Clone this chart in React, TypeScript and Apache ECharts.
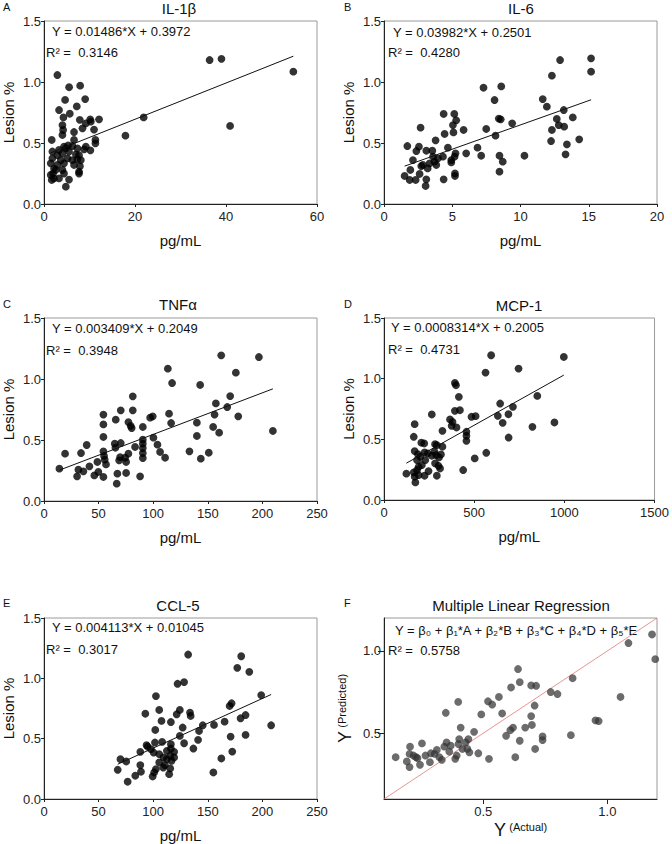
import { useEffect, useRef } from 'react';
import * as echarts from 'echarts';

const FONT = '"Liberation Sans", Arial, Helvetica, sans-serif';

// Lesion % vs cytokine level
const il1bPoints: [number, number][] = [
  [36.4, 1.18], [39.0, 1.19], [54.8, 1.085], [40.9, 0.64], [21.9, 0.71], [17.9, 0.56],
  [2.94, 1.057], [5.52, 0.957], [7.95, 0.97], [4.64, 0.853], [9.05, 0.86], [7.2, 0.8],
  [3.31, 0.77], [5.67, 0.74], [4.27, 0.71], [7.87, 0.69], [10.16, 0.694], [12.1, 0.694],
  [4.05, 0.647], [9.2, 0.66], [4.2, 0.607], [6.6, 0.59], [8.46, 0.62], [10.3, 0.675],
  [11.0, 0.61], [4.05, 0.566], [1.7, 0.525], [6.6, 0.525], [11.3, 0.525], [11.3, 0.497],
  [6.25, 0.475], [9.2, 0.47], [4.4, 0.47], [5.3, 0.48], [7.35, 0.456], [8.83, 0.448],
  [10.2, 0.44], [1.84, 0.43], [3.3, 0.443], [4.8, 0.456], [2.94, 0.4], [4.05, 0.415],
  [5.5, 0.43], [7.0, 0.407], [7.7, 0.4], [1.84, 0.374], [3.7, 0.36], [5.15, 0.374],
  [6.25, 0.36], [7.35, 0.366], [8.1, 0.36], [1.48, 0.333], [2.94, 0.32], [4.4, 0.333],
  [6.6, 0.32], [7.9, 0.31], [2.2, 0.29], [4.05, 0.28], [7.7, 0.265], [2.0, 0.25],
  [4.4, 0.25], [2.2, 0.21], [3.3, 0.21], [5.5, 0.2], [7.7, 0.25], [1.48, 0.238],
  [4.8, 0.142], [1.7, 0.197], [2.6, 0.28],
];

const il6Points: [number, number][] = [
  [15.17, 1.194], [15.17, 1.085], [12.9, 1.18], [12.3, 1.052], [7.29, 0.953], [8.59, 0.964],
  [8.1, 0.852], [11.63, 0.86], [11.93, 0.798], [13.17, 0.77], [4.37, 0.738], [5.15, 0.738],
  [8.41, 0.7], [8.55, 0.694], [12.66, 0.697], [13.83, 0.71], [5.29, 0.686], [5.05, 0.647],
  [2.68, 0.626], [7.49, 0.615], [5.83, 0.607], [9.39, 0.661], [12.8, 0.647], [13.2, 0.634],
  [12.3, 0.607], [5.09, 0.587], [4.44, 0.574], [8.17, 0.56], [3.78, 0.522], [1.71, 0.475],
  [2.56, 0.47], [3.1, 0.437], [3.54, 0.437], [2.37, 0.434], [4.68, 0.462], [6.85, 0.462],
  [12.24, 0.516], [13.4, 0.489], [14.3, 0.53], [2.12, 0.36], [2.85, 0.32], [3.7, 0.347],
  [3.59, 0.388], [4.32, 0.388], [3.95, 0.374], [4.93, 0.36], [5.17, 0.388], [5.24, 0.415],
  [6.02, 0.415], [7.12, 0.396], [8.46, 0.396], [8.7, 0.347], [10.29, 0.396], [13.3, 0.407],
  [8.46, 0.265], [1.51, 0.23], [1.93, 0.279], [1.88, 0.197], [2.32, 0.197], [2.61, 0.246],
  [3.1, 0.202], [3.05, 0.148], [2.73, 0.311], [3.2, 0.292], [4.37, 0.202], [5.2, 0.251],
  [5.2, 0.23], [3.83, 0.32], [3.34, 0.333], [4.93, 0.341],
];

const tnfPoints: [number, number][] = [
  [162.3, 1.194], [196.8, 1.18], [113.4, 1.085], [175.7, 1.052], [117.3, 0.967], [143, 0.951],
  [81.3, 0.858], [170.5, 0.86], [157.4, 0.8], [167.8, 0.77], [70.3, 0.743], [81.3, 0.743],
  [54.4, 0.708], [114.5, 0.716], [156.2, 0.708], [177.9, 0.694], [99.6, 0.694], [97.2, 0.683],
  [65.7, 0.667], [77.3, 0.647], [79.4, 0.615], [80.3, 0.598], [54.4, 0.628], [90.5, 0.607],
  [116.4, 0.639], [140, 0.642], [140, 0.533], [154.9, 0.607], [160.4, 0.56], [209.6, 0.574],
  [54.4, 0.525], [100.2, 0.519], [39.1, 0.459], [64.8, 0.47], [70.3, 0.475], [65.4, 0.437],
  [90.5, 0.503], [90.5, 0.47], [90.5, 0.434], [90.5, 0.393], [90.5, 0.352], [83.4, 0.443],
  [103.9, 0.462], [106.3, 0.402], [110.9, 0.355], [133.2, 0.407], [150.9, 0.396], [143.6, 0.347],
  [19.3, 0.388], [33.9, 0.393], [14.1, 0.265], [54.4, 0.407], [55, 0.369], [55.6, 0.339],
  [56.8, 0.3], [48.9, 0.32], [69.7, 0.36], [68.8, 0.333], [77.3, 0.388], [74.3, 0.355],
  [75.2, 0.32], [41.6, 0.284], [31.5, 0.257], [36.1, 0.243], [30.3, 0.202], [46.1, 0.21],
  [49.8, 0.238], [54.4, 0.197], [67.2, 0.224], [66.6, 0.142], [75.2, 0.23], [88, 0.202],
];

const mcp1Points: [number, number][] = [
  [594, 1.193], [997, 1.179], [746, 1.083], [563, 1.05], [393, 0.965], [399, 0.946],
  [415, 0.85], [850, 0.858], [644, 0.795], [715, 0.768], [393, 0.735], [421, 0.74],
  [265, 0.705], [485, 0.686], [508, 0.691], [631, 0.694], [690, 0.707], [366, 0.664],
  [380, 0.644], [375, 0.611], [402, 0.598], [170, 0.625], [658, 0.636], [823, 0.603],
  [945, 0.639], [457, 0.562], [457, 0.529], [324, 0.57], [691, 0.515], [165, 0.521],
  [457, 0.488], [207, 0.472], [223, 0.466], [283, 0.46], [293, 0.452], [324, 0.439],
  [567, 0.389], [503, 0.343], [170, 0.403], [188, 0.378], [201, 0.356], [183, 0.329],
  [225, 0.392], [243, 0.384], [229, 0.329], [265, 0.365], [280, 0.398], [289, 0.37],
  [305, 0.351], [316, 0.376], [283, 0.302], [302, 0.282], [311, 0.26], [439, 0.247],
  [124, 0.217], [165, 0.228], [183, 0.247], [170, 0.192], [192, 0.206], [174, 0.145],
  [225, 0.2], [247, 0.238], [293, 0.2], [192, 0.274], [210, 0.288],
];

const ccl5Points: [number, number][] = [
  [132, 1.197], [180.6, 1.183], [177, 1.087], [188, 1.054], [122.3, 0.955], [128.3, 0.969],
  [102.5, 0.853], [198.9, 0.861], [171.8, 0.793], [170, 0.771], [105.5, 0.738], [124.4, 0.738],
  [92.8, 0.707], [121.5, 0.702], [133.7, 0.716], [134.3, 0.688], [184.6, 0.696], [180, 0.669],
  [107.6, 0.647], [116.2, 0.638], [165.4, 0.641], [127, 0.592], [145.4, 0.611], [155.7, 0.614],
  [101.9, 0.572], [142, 0.564], [208, 0.611], [124.4, 0.523], [170.9, 0.517], [184.6, 0.531],
  [141.1, 0.49], [94.9, 0.435], [101.6, 0.468], [108.2, 0.473], [128.3, 0.462], [136.8, 0.418],
  [88.2, 0.391], [97.9, 0.413], [100.4, 0.385], [105.5, 0.372], [112.5, 0.399], [116.2, 0.418],
  [116.2, 0.454], [119.2, 0.391], [109.5, 0.344], [115.6, 0.358], [119.2, 0.344], [116.8, 0.316],
  [105.5, 0.303], [110.7, 0.281], [109.2, 0.261], [102.5, 0.248], [100.9, 0.22], [99.5, 0.187],
  [115.6, 0.253], [114.6, 0.206], [172.4, 0.393], [162.4, 0.336], [155.1, 0.22], [70, 0.33],
  [75.3, 0.311], [67.5, 0.242], [88.2, 0.281], [88.8, 0.226], [83.6, 0.193], [76.6, 0.143],
  [93.9, 0.446], [112.5, 0.33],
];

// actual vs predicted lesion %
const mlrPoints: [number, number][] = [
  [0.147, 0.354], [0.192, 0.328], [0.203, 0.374], [0.205, 0.418], [0.203, 0.294], [0.219, 0.364],
  [0.229, 0.354], [0.235, 0.348], [0.253, 0.438], [0.245, 0.308], [0.267, 0.364], [0.285, 0.324],
  [0.304, 0.374], [0.313, 0.398], [0.323, 0.354], [0.333, 0.338], [0.349, 0.624], [0.343, 0.418],
  [0.352, 0.444], [0.363, 0.388], [0.369, 0.424], [0.387, 0.344], [0.393, 0.364], [0.399, 0.69],
  [0.403, 0.464], [0.4, 0.434], [0.409, 0.534], [0.416, 0.404], [0.429, 0.444], [0.436, 0.404],
  [0.44, 0.464], [0.444, 0.384], [0.463, 0.508], [0.48, 0.378], [0.523, 0.344], [0.492, 0.614],
  [0.519, 0.694], [0.536, 0.674], [0.563, 0.72], [0.576, 0.62], [0.592, 0.484], [0.609, 0.518],
  [0.62, 0.534], [0.612, 0.778], [0.64, 0.89], [0.647, 0.81], [0.629, 0.354], [0.647, 0.454],
  [0.669, 0.534], [0.693, 0.604], [0.696, 0.55], [0.707, 0.668], [0.693, 0.79], [0.713, 0.788],
  [0.709, 0.404], [0.739, 0.48], [0.739, 0.458], [0.772, 0.75], [0.799, 0.738], [0.86, 0.834],
  [0.853, 0.488], [0.952, 0.578], [0.965, 0.574], [1.053, 0.72], [1.085, 1.048], [1.18, 1.1],
  [1.193, 0.95], [0.289, 0.378],
];

const lesionTicks = [0, 0.5, 1.0, 1.5];
const mlrTicks = [0.5, 1.0];

const panels = [
  {
    letter: 'A', title: 'IL-1β', points: il1bPoints, xMax: 60, xStep: 20,
    slope: 0.01486, intercept: 0.3972, eq: 'Y = 0.01486*X + 0.3972', r2: 'R² =  0.3146',
    box: { left: 44, top: 21, width: 273, height: 183 },
    titleAt: [179, 8], letterAt: [3, 7], eqAt: [52, 31], r2At: [46, 52],
  },
  {
    letter: 'B', title: 'IL-6', points: il6Points, xMax: 20, xStep: 5,
    slope: 0.03982, intercept: 0.2501, eq: 'Y = 0.03982*X + 0.2501', r2: 'R² =  0.4280',
    box: { left: 384, top: 21, width: 273, height: 183 },
    titleAt: [521, 8], letterAt: [344, 7], eqAt: [393, 32], r2At: [388, 52],
  },
  {
    letter: 'C', title: 'TNFα', points: tnfPoints, xMax: 250, xStep: 50,
    slope: 0.003409, intercept: 0.2049, eq: 'Y = 0.003409*X + 0.2049', r2: 'R² =  0.3948',
    box: { left: 44, top: 318, width: 273, height: 183 },
    titleAt: [178, 304], letterAt: [3, 304], eqAt: [52, 328], r2At: [46, 350],
  },
  {
    letter: 'D', title: 'MCP-1', points: mcp1Points, xMax: 1500, xStep: 500,
    slope: 0.0008314, intercept: 0.2005, eq: 'Y = 0.0008314*X + 0.2005', r2: 'R² =  0.4731',
    box: { left: 384, top: 318, width: 273, height: 182 },
    titleAt: [519, 305], letterAt: [344, 304], eqAt: [391, 327], r2At: [388, 349],
  },
  {
    letter: 'E', title: 'CCL-5', points: ccl5Points, xMax: 250, xStep: 50,
    slope: 0.004113, intercept: 0.01045, eq: 'Y = 0.004113*X + 0.01045', r2: 'R² =  0.3017',
    box: { left: 44, top: 618, width: 273, height: 182 },
    titleAt: [178, 605], letterAt: [3, 603], eqAt: [52, 627], r2At: [46, 649],
  },
];

const textEl = (x: number, y: number, text: string, size: number, align = 'left') => ({
  type: 'text',
  x,
  y,
  silent: true,
  style: {
    text,
    font: `${size}px ${FONT}`,
    fill: '#111',
    align,
    textAlign: align,
    verticalAlign: 'middle',
    textVerticalAlign: 'middle',
  },
});

const axisLineStyle = { show: true, lineStyle: { color: '#222', width: 1 } };

const App = () => {
  const chartRef = useRef<HTMLDivElement>(null);

  useEffect(() => {
    if (!chartRef.current) return;
    const chart = echarts.init(chartRef.current, undefined, { renderer: 'svg' });

    const grids: any[] = [];
    const xAxes: any[] = [];
    const yAxes: any[] = [];
    const series: any[] = [];
    const graphic: any[] = [];

    panels.forEach((p, i) => {
      grids.push({ ...p.box, show: true, borderColor: '#9a9a9a', borderWidth: 1, containLabel: false });
      xAxes.push({
        gridIndex: i,
        type: 'value',
        min: 0,
        max: p.xMax,
        interval: p.xStep,
        name: 'pg/mL',
        nameLocation: 'middle',
        nameGap: 29,
        nameTextStyle: { fontFamily: FONT, fontSize: 15, color: '#111' },
        axisLine: axisLineStyle,
        axisTick: { show: true, length: 3, lineStyle: { color: '#222' } },
        axisLabel: {
          fontFamily: FONT, fontSize: 13, color: '#222', margin: 6,
          formatter: (v: number) => String(v),
        },
        splitLine: { show: false },
      });
      yAxes.push({
        gridIndex: i,
        type: 'value',
        min: 0,
        max: 1.5,
        interval: 0.5,
        name: 'Lesion %',
        nameLocation: 'middle',
        nameGap: 28,
        nameTextStyle: { fontFamily: FONT, fontSize: 15, color: '#111' },
        axisLine: axisLineStyle,
        axisTick: { show: true, length: 3, lineStyle: { color: '#222' } },
        axisLabel: {
          fontFamily: FONT, fontSize: 13, color: '#222', margin: 3,
          customValues: lesionTicks,
          formatter: (v: number) => v.toFixed(1),
        },
        splitLine: { show: false },
      });
      const xs = p.points.map((d) => d[0]);
      const x0 = Math.min(...xs);
      const x1 = Math.max(...xs);
      series.push({
        type: 'scatter',
        xAxisIndex: i,
        yAxisIndex: i,
        data: p.points,
        symbolSize: 7.8,
        itemStyle: { color: '#000' },
      });
      series.push({
        type: 'line',
        xAxisIndex: i,
        yAxisIndex: i,
        data: [[x0, p.slope * x0 + p.intercept], [x1, p.slope * x1 + p.intercept]],
        symbol: 'none',
        lineStyle: { color: '#111', width: 1 },
        z: 3,
      });
      graphic.push(textEl(p.titleAt[0], p.titleAt[1], p.title, 15, 'center'));
      graphic.push(textEl(p.letterAt[0], p.letterAt[1], p.letter, 11));
      graphic.push(textEl(p.eqAt[0], p.eqAt[1], p.eq, 13));
      graphic.push(textEl(p.r2At[0], p.r2At[1], p.r2, 13));
    });

    // panel F: multiple linear regression
    const fi = panels.length;
    grids.push({ left: 384, top: 618, width: 273, height: 181, show: true, borderColor: '#9a9a9a', borderWidth: 1 });
    xAxes.push({
      gridIndex: fi,
      type: 'value',
      min: 0.1,
      max: 1.2,
      name: '{a|Y} {b|(Actual)}',
      nameLocation: 'middle',
      nameGap: 22,
      nameTextStyle: {
        fontFamily: FONT, color: '#111',
        rich: {
          a: { fontFamily: FONT, fontSize: 18, color: '#111' },
          b: { fontFamily: FONT, fontSize: 11, color: '#111', verticalAlign: 'top' },
        },
      },
      axisLine: axisLineStyle,
      axisTick: { show: true, length: 5, customValues: mlrTicks, lineStyle: { color: '#222' } },
      axisLabel: {
        fontFamily: FONT, fontSize: 13, color: '#222', margin: 6,
        customValues: mlrTicks,
        formatter: (v: number) => v.toFixed(1),
      },
      splitLine: { show: false },
    });
    yAxes.push({
      gridIndex: fi,
      type: 'value',
      min: 0.1,
      max: 1.2,
      name: '{a|Y} {b|(Predicted)}',
      nameLocation: 'middle',
      nameGap: 30,
      nameTextStyle: {
        fontFamily: FONT, color: '#111',
        rich: {
          a: { fontFamily: FONT, fontSize: 18, color: '#111' },
          b: { fontFamily: FONT, fontSize: 11, color: '#111', verticalAlign: 'top' },
        },
      },
      axisLine: axisLineStyle,
      axisTick: { show: true, length: 6, customValues: mlrTicks, lineStyle: { color: '#222' } },
      axisLabel: {
        fontFamily: FONT, fontSize: 13, color: '#222', margin: 3,
        customValues: mlrTicks,
        formatter: (v: number) => v.toFixed(1),
      },
      splitLine: { show: false },
    });
    series.push({
      type: 'line',
      xAxisIndex: fi,
      yAxisIndex: fi,
      data: [[0.1, 0.1], [1.2, 1.2]],
      symbol: 'none',
      lineStyle: { color: '#e07a7a', width: 0.8 },
      z: 1,
    });
    series.push({
      type: 'scatter',
      xAxisIndex: fi,
      yAxisIndex: fi,
      data: mlrPoints,
      symbolSize: 7.8,
      itemStyle: { color: '#333', opacity: 0.72 },
      z: 2,
    });
    graphic.push(textEl(521, 605, 'Multiple Linear Regression', 15, 'center'));
    graphic.push(textEl(344, 603, 'F', 11));
    graphic.push(textEl(395, 630, 'Y = β₀ + β₁*A + β₂*B + β₃*C + β₄*D + β₅*E', 13));
    graphic.push(textEl(388, 650, 'R² =  0.5758', 13));

    chart.setOption({
      animation: false,
      backgroundColor: '#fff',
      textStyle: { fontFamily: FONT },
      grid: grids,
      xAxis: xAxes,
      yAxis: yAxes,
      series,
      graphic,
    });

    return () => {
      chart.dispose();
    };
  }, []);

  return (
    <div
      ref={chartRef}
      style={{ position: 'absolute', left: 0, top: 0, width: 672, height: 844 }}
    />
  );
};

export default App;
